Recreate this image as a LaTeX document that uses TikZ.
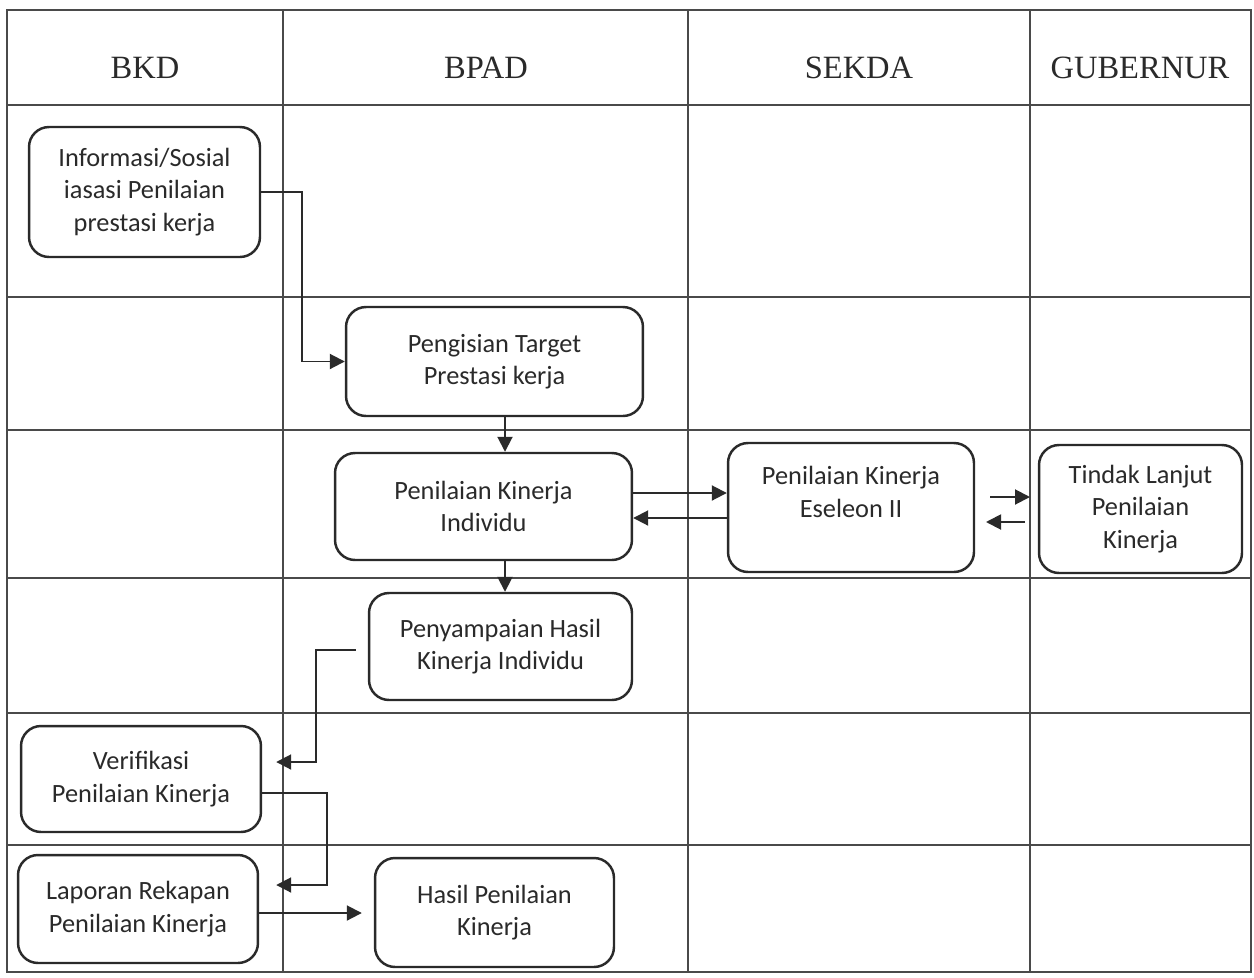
\documentclass[tikz,border=0pt]{standalone}
\usepackage{fontspec}
\setmainfont{Liberation Serif}
\newfontfamily\boxfont{Carlito}
\usetikzlibrary{arrows.meta}
\definecolor{gridc}{HTML}{4A4A4A}
\definecolor{inkc}{HTML}{2A2A2A}
\begin{document}
\begin{tikzpicture}[x=0.02cm,y=-0.02cm,
  gridline/.style={draw=gridc, line width=0.7pt},
  box/.style={draw=inkc, line width=1.4pt, rounded corners=0.4cm, inner sep=0pt, align=center,
    font=\boxfont\fontsize{15}{18.5}\selectfont, text=inkc},
  head/.style={anchor=base, font=\fontsize{18.5}{22}\selectfont, text=inkc},
  arr/.style={draw=inkc, line width=1.1pt, -{Triangle[length=0.3cm,width=0.3cm]}}]
\useasboundingbox (0,0) rectangle (1254,977);
\fill[white] (0,0) rectangle (1254,977);
% grid
\draw[gridline] (7,10) rectangle (1251,972);
\foreach \x in {283,688,1030} \draw[gridline] (\x,10) -- (\x,972);
\foreach \y in {105,297,430,578,713,845} \draw[gridline] (7,\y) -- (1251,\y);
% headers
\node[head] (hbkd) at (145,78) {BKD};
\node[head] (hbpad) at (486,78) {BPAD};
\node[head] (hsekda) at (859,78) {SEKDA};
\node[head] (hgub) at (1140,78) {GUBERNUR};
% boxes
\node[box, minimum width=4.62cm, minimum height=2.6cm] (info) at (144.5,192) {Informasi/Sosial\\iasasi Penilaian\\prestasi kerja};
\node[box, minimum width=5.94cm, minimum height=2.18cm] (peng) at (494.5,361.5) {Pengisian Target\\Prestasi kerja};
\node[box, minimum width=5.94cm, minimum height=2.14cm] (indiv) at (483.5,506.5) {Penilaian Kinerja\\Individu};
\node[box, minimum width=4.92cm, minimum height=2.58cm] (esel) at (851,507.5)
  {\raisebox{0.26cm}[\height][\depth]{\begin{tabular}{@{}c@{}}Penilaian Kinerja\\Eseleon II\end{tabular}}};
\node[box, minimum width=4.06cm, minimum height=2.56cm] (tindak) at (1140.5,509) {Tindak Lanjut\\Penilaian\\Kinerja};
\node[box, minimum width=5.26cm, minimum height=2.14cm] (penyamp) at (500.5,646.5) {Penyampaian Hasil\\Kinerja Individu};
\node[box, minimum width=4.8cm, minimum height=2.12cm] (verif) at (141,779) {Verifikasi\\Penilaian Kinerja};
\node[box, minimum width=4.8cm, minimum height=2.16cm] (lapor) at (138,909) {Laporan Rekapan\\Penilaian Kinerja};
\node[box, minimum width=4.78cm, minimum height=2.18cm] (hasil) at (494.5,912.5) {Hasil Penilaian\\Kinerja};
% helper coordinates
\coordinate (ax) at (505,0);
\coordinate (a1) at (302,0);
\coordinate (d1) at (0,493);
\coordinate (d2) at (0,518);
\coordinate (e1s) at (990,497);
\coordinate (e1e) at (1030,497);
\coordinate (e2s) at (1025,522);
\coordinate (e2e) at (986,522);
\coordinate (f0) at (0,650);
\coordinate (f1) at (316,762);
\coordinate (g0) at (0,793);
\coordinate (g1) at (327,885);
\coordinate (h0) at (0,913);
% connectors
\draw[arr] (info.east) -| (a1 |- peng.west) -- (peng.west);
\draw[arr] (peng.south -| ax) -- (indiv.north -| ax);
\draw[arr] (indiv.south -| ax) -- (penyamp.north -| ax);
\draw[arr] (indiv.east |- d1) -- (esel.west |- d1);
\draw[arr] (esel.west |- d2) -- (indiv.east |- d2);
\draw[arr] (e1s) -- (e1e);
\draw[arr] (e2s) -- (e2e);
\draw[arr, shorten <=0.24cm, shorten >=0.28cm] (penyamp.west |- f0) -| (f1) -- (verif.east |- f1);
\draw[arr, shorten >=0.34cm] (verif.east |- g0) -| (g1) -- (lapor.east |- g1);
\draw[arr, shorten >=0.24cm] (lapor.east |- h0) -- (hasil.west |- h0);
\end{tikzpicture}
\end{document}
